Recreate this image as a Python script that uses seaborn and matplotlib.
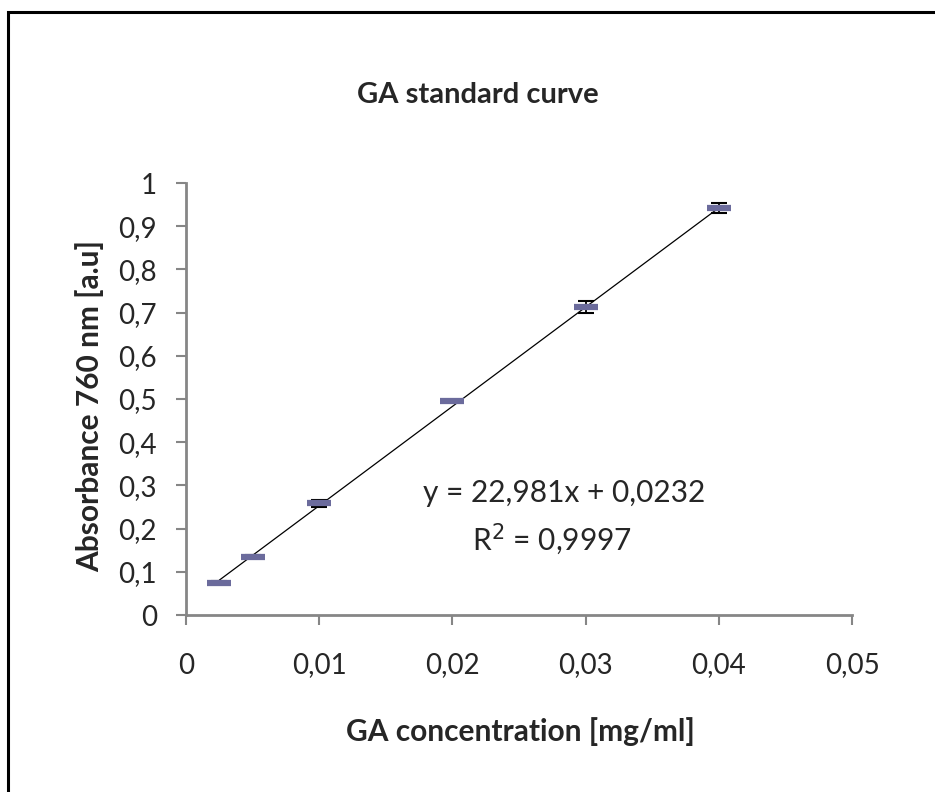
import matplotlib
matplotlib.use("Agg")
import matplotlib.pyplot as plt
import matplotlib.patches as mpatches
import seaborn as sns
import numpy as np
import pandas as pd

# Data
conc = [0.0025, 0.005, 0.01, 0.02, 0.03, 0.04]
absorb = [0.075, 0.135, 0.259, 0.495, 0.712, 0.942]
err = [0.003, 0.003, 0.008, 0.002, 0.014, 0.011]
slope = 22.981
intercept = 0.0232
r2 = 0.9997
xticks = [0, 0.01, 0.02, 0.03, 0.04, 0.05]
xticklabels = ["0", "0,01", "0,02", "0,03", "0,04", "0,05"]
yticks = [0, 0.1, 0.2, 0.3, 0.4, 0.5, 0.6, 0.7, 0.8, 0.9, 1.0]
yticklabels = ["0", "0,1", "0,2", "0,3", "0,4", "0,5", "0,6", "0,7", "0,8", "0,9", "1"]

sns.set_style("white")
plt.rcParams['font.family'] = ['Lato', 'DejaVu Sans']

W, H = 935, 792
fig = plt.figure(figsize=(W / 100, H / 100), dpi=100)
ax = fig.add_axes([186 / W, 1 - 615 / H, (852 - 186) / W, (615 - 183) / H])

df = pd.DataFrame({"x": conc, "y": absorb})

# trendline
fit_x = np.array([conc[0], conc[-1]])
fit_y = slope * fit_x + intercept
ax.plot(fit_x, fit_y, color="black", lw=0.9, zorder=2)

ax.errorbar(conc, absorb, yerr=err, fmt="none", ecolor="black", elinewidth=1.3,
            capsize=6, capthick=1.5, zorder=3)
sns.scatterplot(data=df, x="x", y="y", marker="_", s=17 ** 2, linewidth=4.5,
                color="#6b6b9c", ax=ax, zorder=4)

ax.set_xlim(0, 0.05)
ax.set_ylim(0, 1)
ax.set_xticks(xticks)
ax.set_xticklabels(xticklabels)
ax.set_yticks(yticks)
ax.set_yticklabels(yticklabels)
ax.tick_params(axis="both", labelsize=20, length=7, width=1.5, color="#868686",
               direction="out", bottom=True, left=True)
ax.tick_params(axis="x", pad=20)
ax.tick_params(axis="y", pad=14)
for s in ["top", "right"]:
    ax.spines[s].set_visible(False)
for s in ["left", "bottom"]:
    ax.spines[s].set_color("#868686")
    ax.spines[s].set_linewidth(2)
ax.grid(False)

ax.set_xlabel("GA concentration [mg/ml]", fontsize=21.5, fontweight="bold")
ax.xaxis.set_label_coords((520 - 186) / (852 - 186), -(732 - 615) / (615 - 183))
ax.xaxis.label.set_va("center")
ax.set_ylabel("Absorbance 760 nm [a.u]", fontsize=21.5, fontweight="bold")
ax.yaxis.set_label_coords(-(186 - 90) / (852 - 186), (615 - 406) / (615 - 183))
ax.yaxis.label.set_va("center")
fig.text(478 / W, 1 - 95 / H, "GA standard curve", ha="center", va="center",
         fontsize=21, fontweight="bold")

ax.text(0.0284, 0.282, "y = 22,981x + 0,0232", ha="center", va="center", fontsize=21.5)
ax.text(0.0275, 0.175, "R$^2$ = 0,9997", ha="center", va="center", fontsize=21.5)

# outer border
rect = mpatches.Rectangle((8 / W, -0.1), 1.2, 1 - 12 / H + 0.1, transform=fig.transFigure,
                          fill=False, edgecolor="black", lw=2.2)
fig.patches.append(rect)

fig.savefig("out.png", dpi=100)
